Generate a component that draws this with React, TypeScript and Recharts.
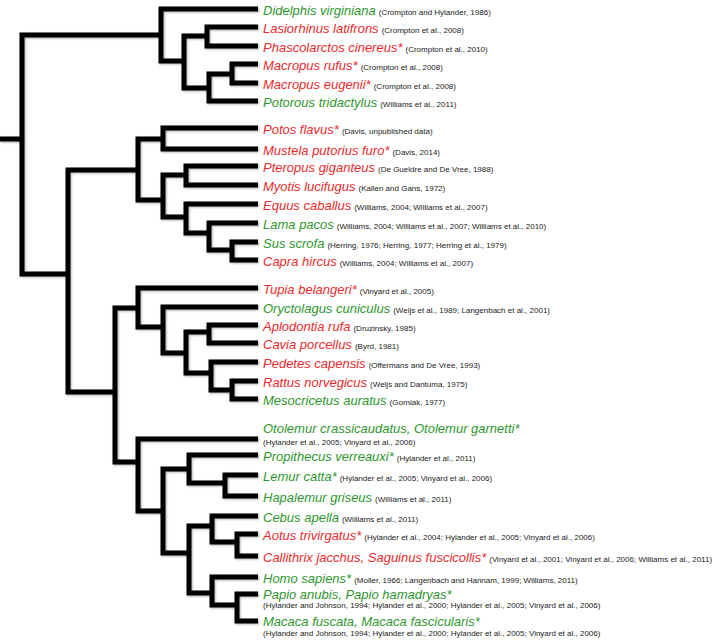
import React from 'react';
import { ScatterChart, Scatter, XAxis, YAxis } from 'recharts';

// ---- Leaves (top to bottom) ----
const leafNames = [
  'Didelphis virginiana', 'Lasiorhinus latifrons', 'Phascolarctos cinereus*', 'Macropus rufus*',
  'Macropus eugenii*', 'Potorous tridactylus', 'Potos flavus*', 'Mustela putorius furo*',
  'Pteropus giganteus', 'Myotis lucifugus', 'Equus caballus', 'Lama pacos', 'Sus scrofa',
  'Capra hircus', 'Tupia belangeri*', 'Oryctolagus cuniculus', 'Aplodontia rufa',
  'Cavia porcellus', 'Pedetes capensis', 'Rattus norvegicus', 'Mesocricetus auratus',
  'Otolemur crassicaudatus, Otolemur garnetti*', 'Propithecus verreauxi*', 'Lemur catta*',
  'Hapalemur griseus', 'Cebus apella', 'Aotus trivirgatus*', 'Callithrix jacchus, Saguinus fuscicollis*',
  'Homo sapiens*', 'Papio anubis, Papio hamadryas*', 'Macaca fuscata, Macaca fascicularis*',
];
const leafCites = [
  '(Crompton and Hylander, 1986)', '(Crompton et al., 2008)', '(Crompton et al., 2010)',
  '(Crompton et al., 2008)', '(Crompton et al., 2008)', '(Williams et al., 2011)',
  '(Davis, unpublished data)', '(Davis, 2014)', '(De Gueldre and De Vree, 1988)',
  '(Kallen and Gans, 1972)', '(Williams, 2004; Williams et al., 2007)',
  '(Williams, 2004; Williams et al., 2007; Williams et al., 2010)',
  '(Herring, 1976; Herring, 1977; Herring et al., 1979)', '(Williams, 2004; Williams et al., 2007)',
  '(Vinyard et al., 2005)', '(Weijs et al., 1989; Langenbach et al., 2001)', '(Druzinsky, 1985)',
  '(Byrd, 1981)', '(Offermans and De Vree, 1993)', '(Weijs and Dantuma, 1975)', '(Gorniak, 1977)',
  '(Hylander et al., 2005; Vinyard et al., 2006)', '(Hylander et al., 2011)',
  '(Hylander et al., 2005; Vinyard et al., 2006)', '(Williams et al., 2011)', '(Williams et al., 2011)',
  '(Hylander et al., 2004; Hylander et al., 2005; Vinyard et al., 2006)',
  '(Vinyard et al., 2001; Vinyard et al., 2006; Williams et al., 2011)',
  '(Moller, 1966; Langenbach and Hannam, 1999; Williams, 2011)',
  '(Hylander and Johnson, 1994; Hylander et al., 2000; Hylander et al., 2005; Vinyard et al., 2006)',
  '(Hylander and Johnson, 1994; Hylander et al., 2000; Hylander et al., 2005; Vinyard et al., 2006)',
];
// 1 = red group, 0 = green group
const leafGroup = [0, 1, 1, 1, 1, 0, 1, 1, 1, 1, 1, 0, 0, 1, 1, 0, 1, 1, 1, 1, 0, 0, 0, 0, 0, 0, 1, 1, 0, 0, 0];
const leafY = [9, 27, 46, 64, 83, 101, 128, 149, 166, 185, 204, 223, 242, 260, 288, 307, 325, 343, 362, 381, 399, 439, 455, 475, 496, 516, 534, 556, 577, 594, 621];
const tipX = 258;
const stemStartX = 0;

// ---- Internal nodes ----
const cladeIds = ['root', 'mars', 'mars2', 'vomb', 'macro2', 'macro', 'plac', 'laur', 'carn', 'laur2', 'chiro', 'ungul', 'cetart', 'bovid', 'euarch', 'gs', 'glires', 'rod', 'apl', 'ped', 'rat', 'prim', 'prim2', 'strep', 'lem', 'anth', 'platy', 'aot', 'cat', 'pap'];
const cladeX = [22, 161, 184, 207, 209, 232, 68, 138, 163, 163, 186, 186, 209, 232, 115, 138, 163, 186, 209, 211, 232, 138, 163, 189, 225, 189, 212, 237, 212, 237];
const cladeY = [139, 35, 61, 36, 88, 74, 274, 170, 139, 200, 175, 217, 233, 250, 392, 308, 327, 353, 332, 373, 390, 462, 511, 469, 483, 553, 526, 542, 593, 605];
const cladeKids = [
  ['mars', 'plac'], ['L0', 'mars2'], ['vomb', 'macro2'], ['L1', 'L2'], ['macro', 'L5'], ['L3', 'L4'],
  ['laur', 'euarch'], ['carn', 'laur2'], ['L6', 'L7'], ['chiro', 'ungul'], ['L8', 'L9'], ['L10', 'cetart'],
  ['L11', 'bovid'], ['L12', 'L13'], ['gs', 'prim'], ['L14', 'glires'], ['L15', 'rod'], ['apl', 'ped'],
  ['L16', 'L17'], ['L18', 'rat'], ['L19', 'L20'], ['L21', 'prim2'], ['strep', 'anth'], ['L22', 'lem'],
  ['L23', 'L24'], ['platy', 'cat'], ['L25', 'aot'], ['L26', 'L27'], ['L28', 'pap'], ['L29', 'L30'],
];

const RED = '#ea2a2c';
const GREEN = '#2e962e';
const FONT = '"Liberation Sans", Arial, Helvetica, sans-serif';

// label offsets for two-line labels (style only)
const twoLine: Record<number, { sp: number; ci: number }> = {
  21: { sp: -11, ci: 3 },
  29: { sp: 0, ci: 11 },
  30: { sp: 0, ci: 12 },
};

function pos(id: string) {
  if (id.startsWith('L')) {
    const i = Number(id.slice(1));
    return { x: tipX, y: leafY[i] };
  }
  const k = cladeIds.indexOf(id);
  return { x: cladeX[k], y: cladeY[k] };
}

const brackets = cladeIds.map((id, k) => {
  const [a, b] = cladeKids[k].map(pos);
  const n = { x: cladeX[k], y: cladeY[k] };
  return [
    { x: a.x, y: a.y },
    { x: n.x, y: a.y },
    { x: n.x, y: b.y },
    { x: b.x, y: b.y },
  ];
});
const stem = [
  { x: stemStartX, y: cladeY[0] },
  { x: cladeX[0], y: cladeY[0] },
];

const leafData = leafNames.map((name, i) => ({
  x: tipX,
  y: leafY[i],
  name,
  cite: leafCites[i],
  idx: i,
  group: leafGroup[i],
}));

const NoShape = () => <g />;

const LeafLabel = (props: any) => {
  const { cx, cy, payload } = props;
  if (cx == null || cy == null || !payload) return <g />;
  const color = payload.group === 1 ? RED : GREEN;
  const tl = twoLine[payload.idx];
  const x = cx + 5;
  if (tl) {
    return (
      <g>
        <text x={x} y={cy + tl.sp} dy="0.35em" fontFamily={FONT} fontSize={13} fontStyle="italic" fill={color}>
          {payload.name}
        </text>
        <text x={x} y={cy + tl.ci} dy="0.35em" fontFamily={FONT} fontSize={8} fill="#222">
          {payload.cite}
        </text>
      </g>
    );
  }
  return (
    <text x={x} y={cy} dy="0.35em" fontFamily={FONT}>
      <tspan fontSize={13} fontStyle="italic" fill={color}>{payload.name}</tspan>
      <tspan fontSize={8} fill="#222" dx={3}>{payload.cite}</tspan>
    </text>
  );
};

const lineStyle = {
  stroke: '#000',
  strokeWidth: 5,
  strokeLinejoin: 'miter' as const,
  strokeLinecap: 'butt' as const,
  style: { filter: 'drop-shadow(1px 1px 1px rgba(0,0,0,0.3))' },
};

export default function App() {
  return (
    <div style={{ position: 'absolute', left: 0, top: 0, width: 722, height: 642, background: '#fff' }}>
      <ScatterChart width={722} height={642} margin={{ top: 0, right: 0, bottom: 0, left: 0 }}>
        <XAxis type="number" dataKey="x" domain={[0, 722]} hide allowDataOverflow />
        <YAxis type="number" dataKey="y" domain={[0, 642]} reversed hide allowDataOverflow />
        <Scatter data={stem} line={lineStyle} fill="#000" shape={NoShape} isAnimationActive={false} />
        {brackets.map((pts, i) => (
          <Scatter key={cladeIds[i]} data={pts} line={lineStyle} fill="#000" shape={NoShape} isAnimationActive={false} />
        ))}
        <Scatter data={leafData} fill="#000" shape={LeafLabel} isAnimationActive={false} />
      </ScatterChart>
    </div>
  );
}
